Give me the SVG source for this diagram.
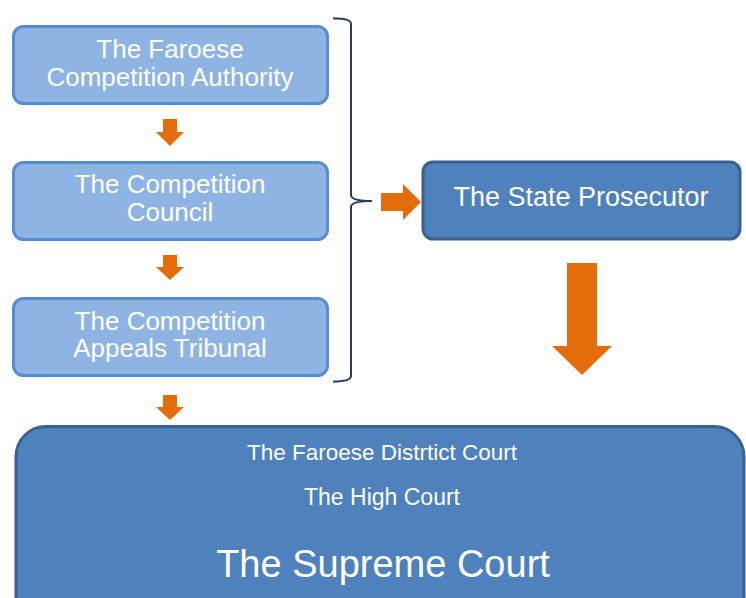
<svg xmlns="http://www.w3.org/2000/svg" width="746" height="598" viewBox="0 0 746 598">
<style>
.light{fill:#8eb4e3;stroke:#558ed5;stroke-width:3}
.dark{fill:#4f81bd;stroke:#3a6190;stroke-width:3}
.t{font-family:"Liberation Sans",Arial,sans-serif;fill:#ffffff;text-anchor:middle}
.arr{fill:#e46c0a}
</style>
<rect width="746" height="598" fill="#ffffff"/>
<g id="n1">
<rect class="light" x="13.5" y="26.5" width="314" height="77" rx="10"/>
<text class="t" x="170" y="57.5" font-size="26">The Faroese</text>
<text class="t" x="170" y="85.5" font-size="26">Competition Authority</text>
</g>
<g id="n2">
<rect class="light" x="13.5" y="162.5" width="314" height="77" rx="10"/>
<text class="t" x="170" y="193" font-size="26">The Competition</text>
<text class="t" x="170" y="220.5" font-size="26">Council</text>
</g>
<g id="n3">
<rect class="light" x="13.5" y="298.5" width="314" height="77" rx="10"/>
<text class="t" x="170" y="329.5" font-size="26">The Competition</text>
<text class="t" x="170" y="357" font-size="26">Appeals Tribunal</text>
</g>
<g id="n4">
<rect class="dark" x="423" y="162" width="317" height="77" rx="10"/>
<text class="t" x="581" y="206" font-size="27">The State Prosecutor</text>
</g>
<g id="n5">
<rect class="dark" x="16" y="426.5" width="728" height="200" rx="30"/>
<text class="t" x="382" y="460" font-size="22.5">The Faroese Distrtict Court</text>
<text class="t" x="382" y="505" font-size="23">The High Court</text>
<text class="t" x="383" y="577" font-size="38">The Supreme Court</text>
</g>
<g id="connectors">
<polygon class="arr" points="163,119 177,119 177,132 184,132 170,146 156,132 163,132"/>
<polygon class="arr" points="163,255 177,255 177,267 184,267 170,280 156,267 163,267"/>
<polygon class="arr" points="163,395 177,395 177,407 184,407 170,420 156,407 163,407"/>
<polygon class="arr" points="381,193 403,193 403,184 421,202 403,220 403,211 381,211"/>
<polygon class="arr" points="567,263 597,263 597,346 612,346 582,375 552,346 567,346"/>
<path d="M333,18.5 Q351,18 351,24 L351,195 Q351,201 372,201 Q351,201 351,207 L351,376 Q351,381.5 333,381.5" fill="none" stroke="#243f60" stroke-width="2"/>
</g>
</svg>
